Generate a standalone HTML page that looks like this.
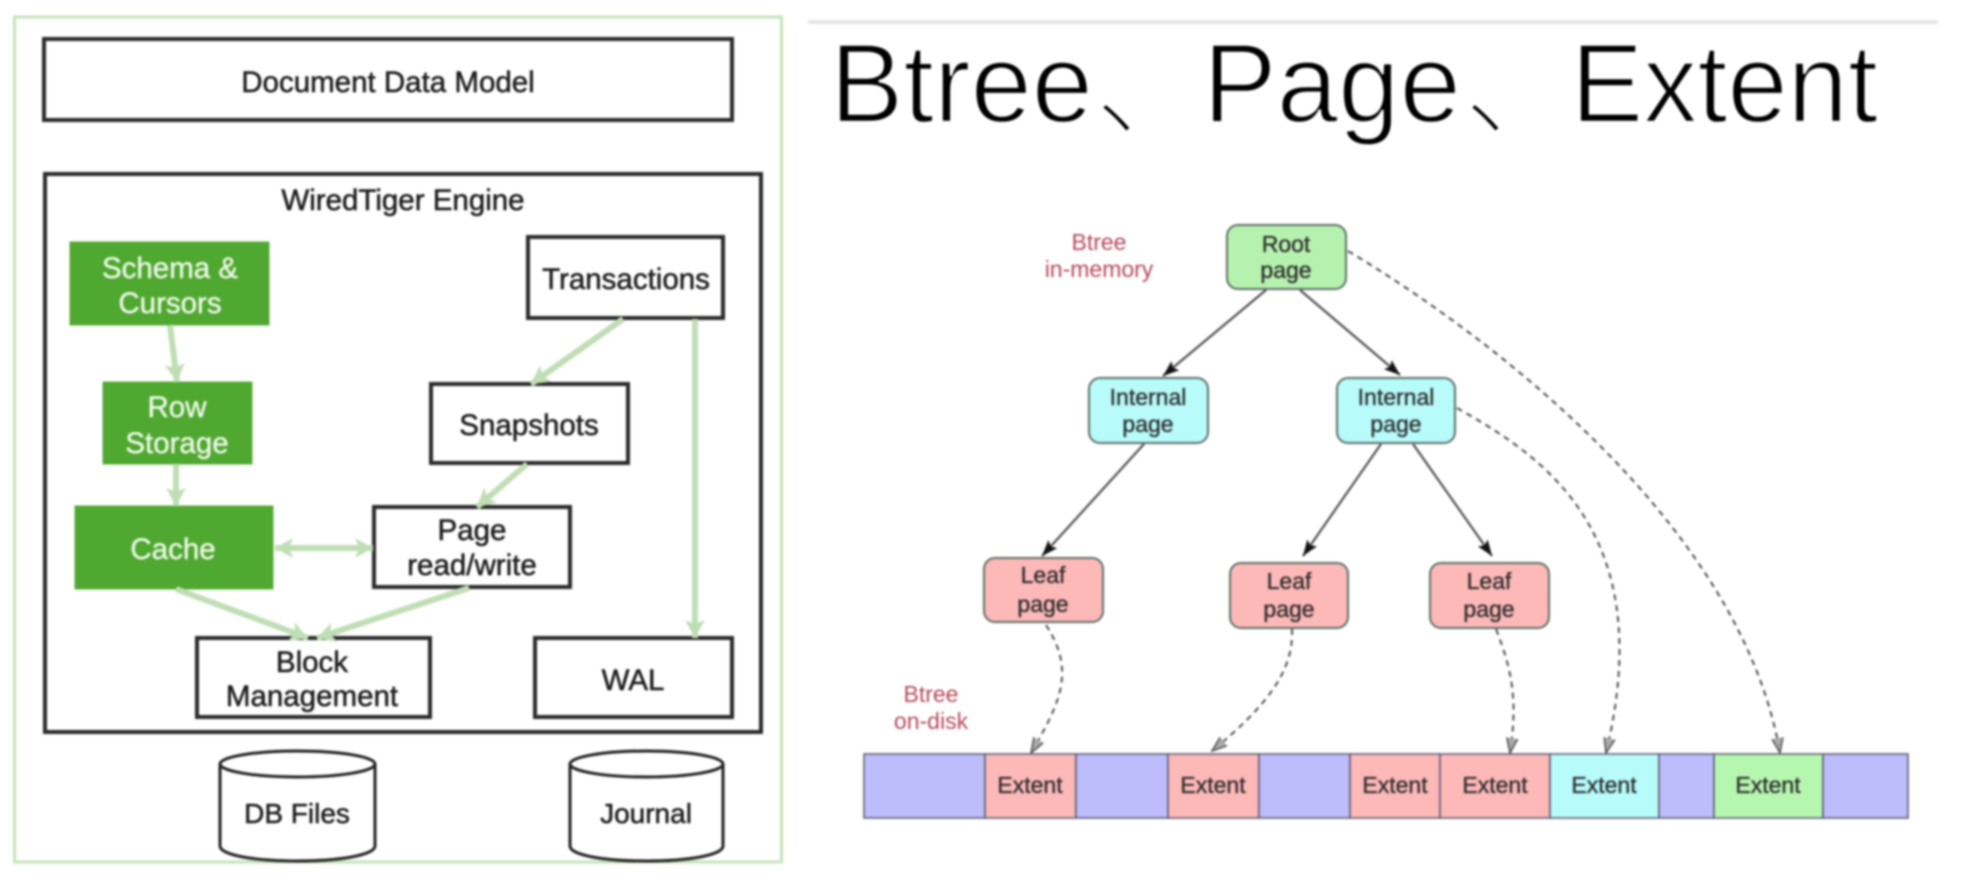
<!DOCTYPE html>
<html><head><meta charset="utf-8"><style>
html,body{margin:0;padding:0;background:#fff;width:1986px;height:880px;overflow:hidden}
svg{display:block;filter:blur(1px)}
text{font-family:"Liberation Sans","Noto Sans CJK SC",sans-serif;text-anchor:middle}
.l{font-size:29.5px;fill:#1c1c1c;stroke:#1c1c1c;stroke-width:.5}
.w{font-size:29.5px;fill:#eef8ea;stroke:#eef8ea;stroke-width:.4}
.r{font-size:23px;fill:#2c2c2c;stroke:#2c2c2c;stroke-width:.35}
.red{font-size:23px;fill:#b5495b}
.b{fill:#fff;stroke:#2a2a2a;stroke-width:4}
.g{fill:#4fa82f;stroke:#5cb03c;stroke-width:1}
.ga{stroke:#c0deb5;stroke-width:6;fill:none}
.s{stroke:#505050;stroke-width:2.2;fill:none}
.d{stroke:#505050;stroke-width:2;stroke-dasharray:6 5;fill:none}
.t{font-size:112px;fill:#000;text-anchor:start;stroke:#fff;stroke-width:2.4}
.c{font-family:"Noto Sans CJK SC",sans-serif;font-size:110px;font-weight:200}
</style></head><body>
<svg width="1986" height="880" viewBox="0 0 1986 880" xmlns="http://www.w3.org/2000/svg">
<defs>
<marker id="ga" markerUnits="userSpaceOnUse" markerWidth="24" markerHeight="24" refX="20" refY="11" orient="auto"><path d="M2 1L20 11L2 21L6 11Z" fill="#c0deb5"/></marker>
<marker id="gs" markerUnits="userSpaceOnUse" markerWidth="24" markerHeight="24" refX="2" refY="11" orient="auto"><path d="M20 1L2 11L20 21L16 11Z" fill="#c0deb5"/></marker>
<marker id="k" markerUnits="userSpaceOnUse" markerWidth="18" markerHeight="14" refX="16" refY="7" orient="auto"><path d="M0 1L16 7L0 13L3 7Z" fill="#111"/></marker>
<marker id="o" markerUnits="userSpaceOnUse" markerWidth="18" markerHeight="14" refX="15" refY="7" orient="auto"><path d="M0 1.500L15 7L0 12.500" fill="#aaa" stroke="#505050" stroke-width="1.5"/></marker>
</defs>

<!-- left panel -->
<rect x="14.500" y="17" width="767" height="845" fill="#fff" stroke="#c5e3bb" stroke-width="3"/>
<rect class="b" x="44" y="39" width="688" height="81"/>
<text class="l" x="388" y="92">Document Data Model</text>
<rect class="b" x="45" y="174" width="716" height="558"/>
<text class="l" x="403" y="210">WiredTiger Engine</text>

<rect class="g" x="70" y="242" width="199" height="83"/>
<text class="w" x="170" y="278">Schema &amp;</text><text class="w" x="170" y="313">Cursors</text>
<rect class="g" x="103" y="382" width="149" height="82"/>
<text class="w" x="177" y="417">Row</text><text class="w" x="177" y="453">Storage</text>
<rect class="g" x="75" y="506" width="198" height="83"/>
<text class="w" x="173" y="559">Cache</text>

<rect class="b" x="528" y="237" width="195" height="81"/>
<text class="l" x="626" y="289">Transactions</text>
<rect class="b" x="431" y="384" width="197" height="79"/>
<text class="l" x="529" y="435">Snapshots</text>
<rect class="b" x="374" y="507" width="196" height="80"/>
<text class="l" x="472" y="540">Page</text><text class="l" x="472" y="575">read/write</text>
<rect class="b" x="197" y="638" width="233" height="79"/>
<text class="l" x="312" y="672">Block</text><text class="l" x="312" y="706">Management</text>
<rect class="b" x="535" y="638" width="197" height="79"/>
<text class="l" x="633" y="690">WAL</text>

<line class="ga" x1="170" y1="325" x2="177" y2="382" marker-end="url(#ga)"/>
<line class="ga" x1="176" y1="464" x2="176" y2="506" marker-end="url(#ga)"/>
<line class="ga" x1="623" y1="319" x2="531" y2="384" marker-end="url(#ga)"/>
<line class="ga" x1="695" y1="319" x2="695" y2="638" marker-end="url(#ga)"/>
<line class="ga" x1="527" y1="464" x2="477" y2="507" marker-end="url(#ga)"/>
<line class="ga" x1="275" y1="548" x2="373" y2="548" marker-start="url(#gs)" marker-end="url(#ga)"/>
<line class="ga" x1="176" y1="589" x2="308" y2="638" marker-end="url(#ga)"/>
<line class="ga" x1="469" y1="588" x2="317" y2="638" marker-end="url(#ga)"/>

<g fill="#fff" stroke="#222" stroke-width="3">
<path d="M220 764V846C220 855 254 861 297 861C340 861 375 855 375 846V764"/>
<ellipse cx="297.500" cy="764" rx="77.500" ry="13"/>
<path d="M570 764V846C570 855 603 861 646 861C689 861 723 855 723 846V764"/>
<ellipse cx="646.500" cy="764" rx="76.500" ry="13"/>
</g>
<text class="l" style="font-size:28px" x="297" y="823">DB Files</text>
<text class="l" style="font-size:28px" x="646" y="823">Journal</text>

<!-- right panel -->
<rect x="808" y="20" width="1130" height="4" fill="#e6e6e6"/>
<text class="t" x="830" y="122" textLength="263" lengthAdjust="spacingAndGlyphs">Btree</text>
<text class="t c" x="1095" y="127">、</text>
<text class="t" x="1203" y="122" textLength="258" lengthAdjust="spacingAndGlyphs">Page</text>
<text class="t c" x="1464" y="127">、</text>
<text class="t" x="1571" y="122" textLength="307" lengthAdjust="spacingAndGlyphs">Extent</text>

<text class="red" x="1099" y="250">Btree</text><text class="red" x="1099" y="277">in-memory</text>
<text class="red" x="931" y="702">Btree</text><text class="red" x="931" y="729">on-disk</text>

<g stroke="#5c6f66" stroke-width="2">
<rect x="1227" y="225" width="119" height="64" rx="11" fill="#b6f2af"/>
<rect x="1089" y="378" width="119" height="65" rx="11" fill="#b7fbfb"/>
<rect x="1337" y="378" width="118" height="65" rx="11" fill="#b7fbfb"/>
<rect x="984" y="558" width="119" height="64" rx="11" fill="#fdb8b8"/>
<rect x="1230" y="563" width="118" height="65" rx="11" fill="#fdb8b8"/>
<rect x="1430" y="563" width="119" height="65" rx="11" fill="#fdb8b8"/>
</g>
<text class="r" x="1286" y="252">Root</text><text class="r" x="1286" y="278">page</text>
<text class="r" x="1148" y="405">Internal</text><text class="r" x="1148" y="432">page</text>
<text class="r" x="1396" y="405">Internal</text><text class="r" x="1396" y="432">page</text>
<text class="r" x="1043" y="583">Leaf</text><text class="r" x="1043" y="612">page</text>
<text class="r" x="1289" y="589">Leaf</text><text class="r" x="1289" y="617">page</text>
<text class="r" x="1489" y="589">Leaf</text><text class="r" x="1489" y="617">page</text>

<line class="s" x1="1266" y1="290" x2="1163" y2="376" marker-end="url(#k)"/>
<line class="s" x1="1300" y1="290" x2="1400" y2="375" marker-end="url(#k)"/>
<line class="s" x1="1144" y1="444" x2="1042" y2="556" marker-end="url(#k)"/>
<line class="s" x1="1381" y1="444" x2="1303" y2="556" marker-end="url(#k)"/>
<line class="s" x1="1413" y1="444" x2="1492" y2="556" marker-end="url(#k)"/>

<path class="d" d="M1348 251C1480 330 1740 520 1780 753" marker-end="url(#o)"/>
<path class="d" d="M1457 408C1540 455 1660 530 1606 753" marker-end="url(#o)"/>
<path class="d" d="M1046 625C1075 670 1062 700 1031 753" marker-end="url(#o)"/>
<path class="d" d="M1292 629C1294 670 1268 705 1212 751" marker-end="url(#o)"/>
<path class="d" d="M1496 629C1512 670 1518 700 1510 753" marker-end="url(#o)"/>

<g stroke="#5a5a70" stroke-width="1.5">
<rect x="864" y="754" width="121" height="64" fill="#bdbdfb"/>
<rect x="985" y="754" width="91" height="64" fill="#fdb8b8"/>
<rect x="1076" y="754" width="92" height="64" fill="#bdbdfb"/>
<rect x="1168" y="754" width="91" height="64" fill="#fdb8b8"/>
<rect x="1259" y="754" width="91" height="64" fill="#bdbdfb"/>
<rect x="1350" y="754" width="90" height="64" fill="#fdb8b8"/>
<rect x="1440" y="754" width="110" height="64" fill="#fdb8b8"/>
<rect x="1550" y="754" width="109" height="64" fill="#b7fbfb"/>
<rect x="1659" y="754" width="55" height="64" fill="#bdbdfb"/>
<rect x="1714" y="754" width="109" height="64" fill="#b6f7b0"/>
<rect x="1823" y="754" width="85" height="64" fill="#bdbdfb"/>
</g>
<text class="r" x="1030" y="793">Extent</text>
<text class="r" x="1213" y="793">Extent</text>
<text class="r" x="1395" y="793">Extent</text>
<text class="r" x="1495" y="793">Extent</text>
<text class="r" x="1604" y="793">Extent</text>
<text class="r" x="1768" y="793">Extent</text>
</svg>
</body></html>
